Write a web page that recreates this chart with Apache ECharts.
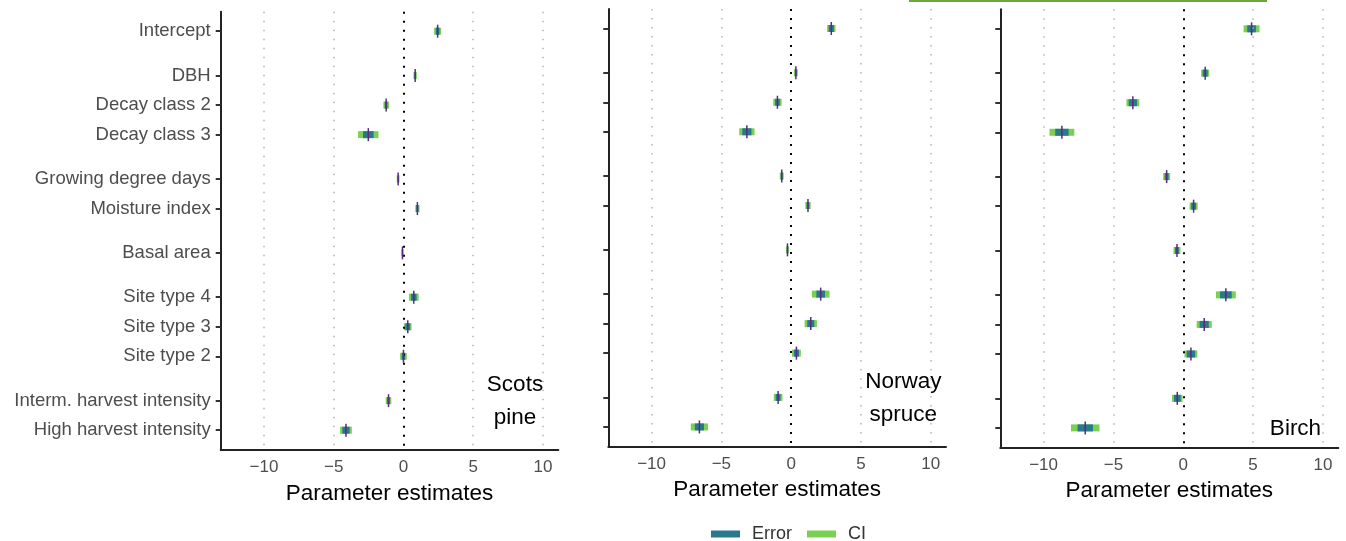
<!DOCTYPE html>
<html>
<head>
<meta charset="utf-8">
<script src="https://cdn.jsdelivr.net/npm/echarts@6/dist/echarts.min.js"></script>
<style>
html,body{margin:0;padding:0;background:#fff;}
#chart{width:1346px;height:541px;}
</style>
</head>
<body>
<div id="chart"></div>
<script>
// ---- data ----
const categories = ['Intercept', 'DBH', 'Decay class 2', 'Decay class 3', 'Growing degree days', 'Moisture index',
  'Basal area', 'Site type 4', 'Site type 3', 'Site type 2', 'Interm. harvest intensity', 'High harvest intensity'];
const groups = [0, 1, 1, 1, 2, 2, 3, 4, 4, 4, 5, 5];
const xTicks = [-10, -5, 0, 5, 10];
const panelNames = ['Scots\npine', 'Norway\nspruce', 'Birch'];
const legendNames = ['Error', 'CI'];

const pineEst = [2.45, 0.84, -1.24, -2.52, -0.38, 1.0, -0.07, 0.74, 0.31, 0.0, -1.07, -4.12];
const pineCI = [0.25, 0.12, 0.2, 0.73, 0.1, 0.15, 0.08, 0.35, 0.27, 0.24, 0.2, 0.42];
const pineErr = [0.13, 0.06, 0.1, 0.38, 0.05, 0.08, 0.04, 0.2, 0.17, 0.12, 0.1, 0.26];

const spruceEst = [2.88, 0.34, -0.98, -3.17, -0.67, 1.21, -0.26, 2.12, 1.41, 0.38, -0.93, -6.57];
const spruceCI = [0.3, 0.14, 0.3, 0.55, 0.14, 0.19, 0.1, 0.63, 0.44, 0.32, 0.31, 0.62];
const spruceErr = [0.19, 0.07, 0.17, 0.33, 0.07, 0.1, 0.05, 0.31, 0.25, 0.18, 0.17, 0.33];

const birchEst = [4.89, 1.57, -3.61, -8.69, -1.19, 0.74, -0.45, 3.05, 1.5, 0.55, -0.43, -7.02];
const birchCI = [0.57, 0.29, 0.46, 0.89, 0.25, 0.29, 0.25, 0.71, 0.54, 0.46, 0.38, 1.02];
const birchErr = [0.31, 0.18, 0.3, 0.48, 0.14, 0.17, 0.14, 0.42, 0.33, 0.3, 0.24, 0.55];

// ---- derived positions (gap between groups) ----
const positions = [];
groups.forEach((g, i) => {
  if (i === 0) positions.push(0);
  else positions.push(positions[i - 1] + (g === groups[i - 1] ? 1 : 1.5));
});

const FONT = 'Liberation Sans';
const COL_CI = '#7AD151', COL_ERR = '#2A788E', COL_MEAN = '#5a2a80';

const panels = [
  {est: pineEst, ci: pineCI, err: pineErr, grid: {left: 220.7, top: 11.7, width: 337.6, height: 438.3}, labels: true},
  {est: spruceEst, ci: spruceCI, err: spruceErr, grid: {left: 608.3, top: 9, width: 337.7, height: 437.7}, labels: false},
  {est: birchEst, ci: birchCI, err: birchErr, grid: {left: 1000.3, top: 9.3, width: 338, height: 438.4}, labels: false}
];

function rectRender(height) {
  return function (params, api) {
    const est = api.value(0), pos = api.value(1), h = api.value(2);
    const p1 = api.coord([est - h, pos]);
    const p2 = api.coord([est + h, pos]);
    return {type: 'rect', shape: {x: p1[0], y: p1[1] - height / 2, width: p2[0] - p1[0], height: height},
      style: {fill: api.visual('color')}};
  };
}
function meanRender(params, api) {
  const p = api.coord([api.value(0), api.value(1)]);
  return {type: 'line', shape: {x1: p[0], y1: p[1] - 6.5, x2: p[0], y2: p[1] + 6.5},
    style: {stroke: COL_MEAN, lineWidth: 1.5}};
}

const grids = [], xAxes = [], yAxes = [], series = [];
panels.forEach((p, k) => {
  grids.push(Object.assign({containLabel: false}, p.grid));
  xAxes.push({
    type: 'value', gridIndex: k, min: -13.1, max: 11.1,
    name: 'Parameter estimates', nameLocation: 'middle', nameGap: 32,
    nameTextStyle: {fontFamily: FONT, fontSize: 22.5, color: '#000'},
    axisLine: {show: true, onZero: false, lineStyle: {color: '#222', width: 2}},
    axisTick: {show: false},
    splitLine: {show: false},
    axisLabel: {customValues: xTicks, fontFamily: FONT, fontSize: 17, color: '#4d4d4d', margin: 9,
      formatter: v => String(v).replace('-', '\u2212')}
  });
  yAxes.push({
    type: 'value', gridIndex: k, inverse: true, min: -0.66, max: 14.17,
    axisLine: {show: true, onZero: false, lineStyle: {color: '#222', width: 2}},
    axisTick: {show: true, customValues: positions, length: 5, lineStyle: {color: '#333', width: 2}},
    splitLine: {show: false},
    axisLabel: {show: p.labels, customValues: positions, fontFamily: FONT, fontSize: 18.5, color: '#4d4d4d', margin: 10,
      formatter: v => { const i = positions.findIndex(q => Math.abs(q - v) < 1e-6); return i >= 0 ? categories[i] : ''; }}
  });
  // vertical reference lines
  series.push({
    type: 'custom', name: 'ref' + k, xAxisIndex: k, yAxisIndex: k, z: 1, data: [],
    renderItem: () => null, silent: true,
    markLine: {
      silent: true, symbol: 'none', label: {show: false},
      data: xTicks.map(v => ({xAxis: v, lineStyle: v === 0
        ? {color: '#000', width: 2, type: [2, 7]}
        : {color: '#b3b3b3', width: 1.5, type: [1.5, 7.5]}}))
    }
  });
  series.push({
    type: 'custom', name: 'CI', xAxisIndex: k, yAxisIndex: k, z: 3,
    itemStyle: {color: COL_CI},
    encode: {x: 0, y: 1},
    renderItem: rectRender(7),
    data: p.est.map((e, i) => [e, positions[i], p.ci[i]])
  });
  series.push({
    type: 'custom', name: 'Error', xAxisIndex: k, yAxisIndex: k, z: 4,
    itemStyle: {color: COL_ERR},
    encode: {x: 0, y: 1},
    renderItem: rectRender(7),
    data: p.est.map((e, i) => [e, positions[i], p.err[i]])
  });
  series.push({
    type: 'custom', name: 'Mean', xAxisIndex: k, yAxisIndex: k, z: 5,
    itemStyle: {color: COL_MEAN},
    encode: {x: 0, y: 1},
    renderItem: meanRender,
    data: p.est.map((e, i) => [e, positions[i]])
  });
});

const chart = echarts.init(document.getElementById('chart'), null, {renderer: 'canvas'});
chart.setOption({
  animation: false,
  backgroundColor: '#fff',
  grid: grids, xAxis: xAxes, yAxis: yAxes, series: series,
  legend: {
    data: legendNames, left: 706, top: 520, itemWidth: 29, itemHeight: 7, itemGap: 15, icon: 'rect',
    textStyle: {fontFamily: FONT, fontSize: 18, color: '#333', padding: [0, 0, 0, 7]}
  },
  graphic: [
    {type: 'rect', left: 909, top: 0, shape: {width: 358, height: 2}, style: {fill: '#6aa83a'}},
    {type: 'text', x: 515, y: 401.7, style: {text: panelNames[0], font: '22.5px "Liberation Sans"', fill: '#000',
      textAlign: 'center', textVerticalAlign: 'middle', lineHeight: 33}},
    {type: 'text', x: 903.3, y: 398, style: {text: panelNames[1], font: '22.5px "Liberation Sans"', fill: '#000',
      textAlign: 'center', textVerticalAlign: 'middle', lineHeight: 33}},
    {type: 'text', x: 1295.5, y: 428.3, style: {text: panelNames[2], font: '22.5px "Liberation Sans"', fill: '#000',
      textAlign: 'center', textVerticalAlign: 'middle', lineHeight: 33}}
  ]
});
</script>
</body>
</html>
